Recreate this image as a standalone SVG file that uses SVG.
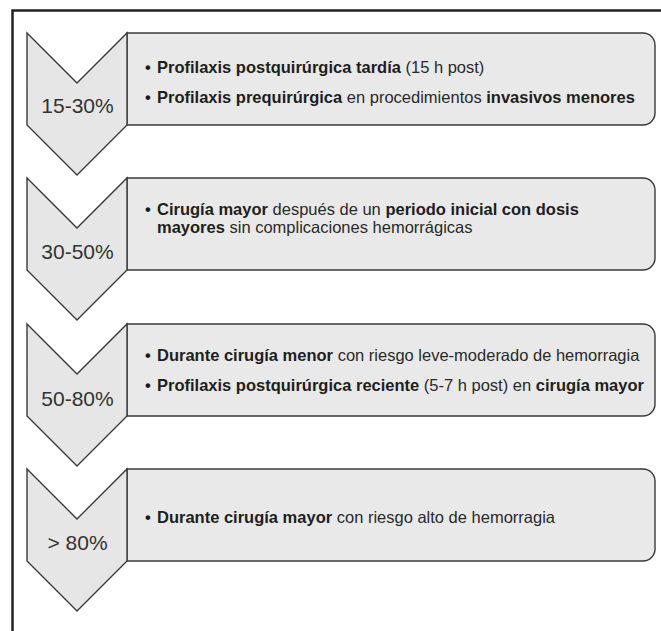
<svg xmlns="http://www.w3.org/2000/svg" width="661" height="631" viewBox="0 0 661 631">
<style>
.frame{fill:none;stroke:#222;stroke-width:2.5}
.box{fill:#e9e9e9;stroke:#3a3a3a;stroke-width:1.4}
.chev{fill:#e6e6e6;stroke:#3a3a3a;stroke-width:1.4;stroke-linejoin:miter}
.lbl{font-family:"Liberation Sans",Arial,sans-serif;font-size:21px;fill:#333;text-anchor:middle}
.t{font-family:"Liberation Sans",Arial,sans-serif;font-size:16.5px;fill:#2a2a2a}
.b{font-weight:bold;fill:#1e1e1e}
</style>
<rect width="661" height="631" fill="#fff"/>
<path class="frame" d="M12.5,631 V10.5 H661"/>
<g id="connectors"/>
<g id="node1">
<path class="box" d="M127,33 H643 A12,12 0 0 1 655,45 V113 A12,12 0 0 1 643,125 H127 Z"/>
<polygon class="chev" points="27,33 77,83 127,33 127,125 77,175 27,125"/>
<text class="lbl" x="77.5" y="113">15-30%</text>
<text class="t b" x="145" y="72.5">•</text>
<text class="t" x="157" y="72.5"><tspan class="b">Profilaxis postquirúrgica tardía</tspan> (15 h post)</text>
<text class="t b" x="145" y="102.5">•</text>
<text class="t" x="157" y="102.5"><tspan class="b">Profilaxis prequirúrgica</tspan> en procedimientos <tspan class="b">invasivos menores</tspan></text>
</g>
<g id="node2">
<path class="box" d="M127,178 H643 A12,12 0 0 1 655,190 V258 A12,12 0 0 1 643,270 H127 Z"/>
<polygon class="chev" points="27,178 77,228 127,178 127,270 77,320 27,270"/>
<text class="lbl" x="77.5" y="259">30-50%</text>
<text class="t b" x="145" y="215">•</text>
<text class="t" x="157" y="215"><tspan class="b">Cirugía mayor</tspan> después de un <tspan class="b">periodo inicial con dosis</tspan></text>
<text class="t" x="157" y="233"><tspan class="b">mayores</tspan> sin complicaciones hemorrágicas</text>
</g>
<g id="node3">
<path class="box" d="M127,324 H643 A12,12 0 0 1 655,336 V404 A12,12 0 0 1 643,416 H127 Z"/>
<polygon class="chev" points="27,324 77,374 127,324 127,416 77,466 27,416"/>
<text class="lbl" x="77.5" y="406">50-80%</text>
<text class="t b" x="145" y="360.5">•</text>
<text class="t" x="157" y="360.5"><tspan class="b">Durante cirugía menor</tspan> con riesgo leve-moderado de hemorragia</text>
<text class="t b" x="145" y="390.5">•</text>
<text class="t" x="157" y="390.5"><tspan class="b">Profilaxis postquirúrgica reciente</tspan> (5-7 h post) en <tspan class="b">cirugía mayor</tspan></text>
</g>
<g id="node4">
<path class="box" d="M127,469 H643 A12,12 0 0 1 655,481 V549 A12,12 0 0 1 643,561 H127 Z"/>
<polygon class="chev" points="27,469 77,519 127,469 127,561 77,611 27,561"/>
<text class="lbl" x="77.5" y="550">&gt; 80%</text>
<text class="t b" x="145" y="523">•</text>
<text class="t" x="157" y="523"><tspan class="b">Durante cirugía mayor</tspan> con riesgo alto de hemorragia</text>
</g>
</svg>
